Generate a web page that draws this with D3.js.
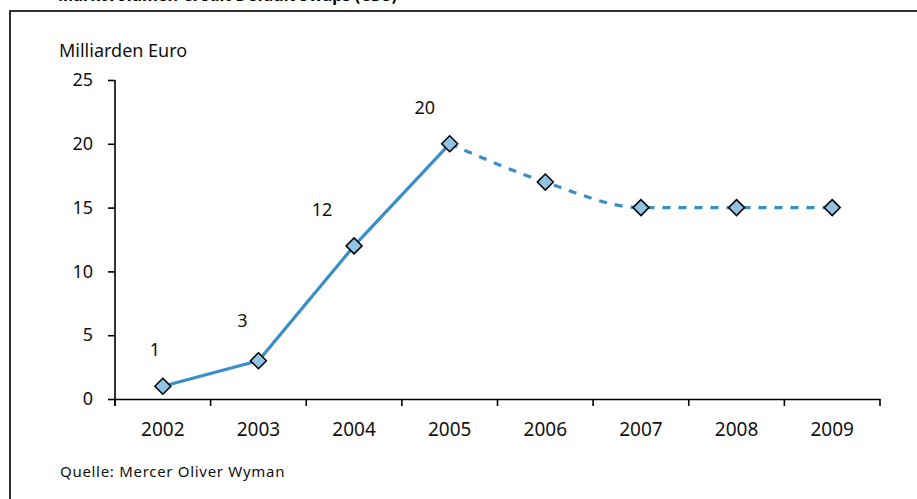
<!DOCTYPE html>
<html><head><meta charset="utf-8">
<script src="https://cdn.jsdelivr.net/npm/d3@7"></script>
<style>
html,body{margin:0;padding:0;background:#fff;}
svg{display:block;font-family:"Noto Sans","Open Sans",sans-serif;}
</style></head>
<body>
<svg id="chart" width="917" height="499"></svg>
<script>
const titleText = "Marktvolumen Credit Default Swaps (CDS)";
const unitLabel = "Milliarden Euro";
const sourceText = "Quelle:  Mercer Oliver Wyman";
const years = ["2002","2003","2004","2005","2006","2007","2008","2009"];
const values = [1, 3, 12, 20, 17, 15, 15, 15];
const actualYears = ["2002","2003","2004","2005"];
const forecastYears = ["2005","2006","2007","2008","2009"];
const labeledYears = ["2002","2003","2004","2005"];
const yTicks = [0, 5, 10, 15, 20, 25];

const svg = d3.select("#chart");
const lineColor = "#3a8fc9", markerFill = "#92c3e3";

// frame
svg.append("rect").attr("x",10).attr("y",11).attr("width",930).attr("height",520)
  .attr("fill","none").attr("stroke","#000").attr("stroke-width",1.6);

// title (cut off at top, as in the original)
svg.append("text").attr("x",58).attr("y",1).attr("font-weight","bold").attr("font-size",17)
  .attr("textLength",339).attr("lengthAdjust","spacingAndGlyphs").attr("fill","#000").text(titleText);

const x = d3.scaleBand().domain(years).range([115, 880]).padding(0);
const y = d3.scaleLinear().domain([0, 25]).range([399, 80]);
const val = d => values[years.indexOf(d)];
const cx = d => x(d) + x.bandwidth()/2;

// y axis
const yAxis = svg.append("g").attr("transform","translate(115,0)")
  .call(d3.axisLeft(y).tickValues(yTicks).tickSize(7).tickPadding(15).tickSizeOuter(0));
yAxis.select(".domain").attr("d","M0,80V406").attr("stroke","#000").attr("stroke-width",1.6);
yAxis.selectAll(".tick line").attr("stroke","#000").attr("stroke-width",1.6);
yAxis.selectAll(".tick text").attr("font-size",18).attr("fill","#111").attr("font-family","Noto Sans, sans-serif");

// x axis
const xAxis = svg.append("g").attr("transform","translate(0,399)")
  .call(d3.axisBottom(x).tickSize(0).tickPadding(24).tickSizeOuter(0));
xAxis.select(".domain").attr("stroke","#000").attr("stroke-width",1.6);
xAxis.selectAll(".tick text").attr("font-size",19).attr("fill","#111").attr("font-family","Noto Sans, sans-serif");
const bounds = years.map(d => x(d)).concat([x(years[years.length-1]) + x.bandwidth()]);
xAxis.selectAll(".bt").data(bounds).enter().append("line")
  .attr("x1",d=>d).attr("x2",d=>d).attr("y1",0).attr("y2",7)
  .attr("stroke","#000").attr("stroke-width",1.6);

// unit label
svg.append("text").attr("x",59).attr("y",57).attr("font-size",18).attr("fill","#111").text(unitLabel);

// lines
const line = d3.line().x(cx).y(d => y(val(d)));
svg.append("path").attr("d", line(actualYears)).attr("fill","none")
  .attr("stroke",lineColor).attr("stroke-width",3.2);
svg.append("path").attr("d", line.curve(d3.curveMonotoneX)(forecastYears)).attr("fill","none")
  .attr("stroke",lineColor).attr("stroke-width",3.2).attr("stroke-dasharray","8,8");

// markers
const s = 8;
svg.selectAll(".mk").data(years).enter().append("path")
  .attr("d", d => `M${cx(d)},${y(val(d))-s}L${cx(d)+s},${y(val(d))}L${cx(d)},${y(val(d))+s}L${cx(d)-s},${y(val(d))}Z`)
  .attr("fill",markerFill).attr("stroke","#000").attr("stroke-width",1.5);

// value labels
const labelDx = [-8, -16, -32, -25];
svg.selectAll(".vl").data(labeledYears).enter().append("text")
  .attr("x",(d,i)=>cx(d)+labelDx[i]).attr("y",(d,i)=>y(val(d))-30 - (i===1?4:0))
  .attr("text-anchor","middle").attr("font-size",18).attr("fill","#111").text(d => val(d));

// source
svg.append("text").attr("x",60).attr("y",477).attr("font-size",15).attr("letter-spacing",0.7)
  .attr("fill","#111").text(sourceText);
</script>
</body></html>
